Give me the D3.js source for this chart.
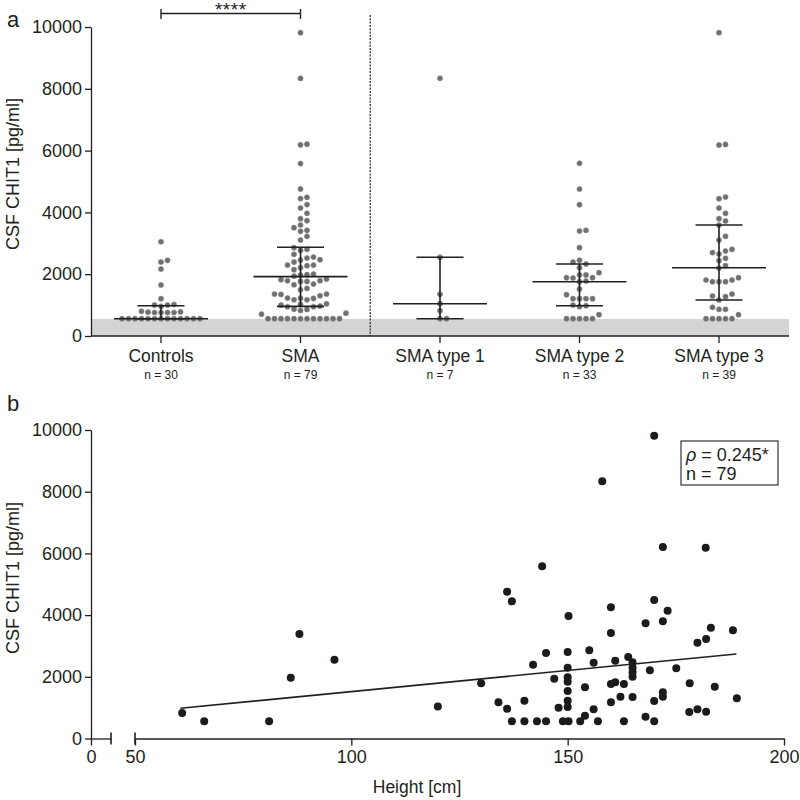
<!DOCTYPE html>
<html><head><meta charset="utf-8">
<script src="https://cdn.jsdelivr.net/npm/d3@7"></script>
<style>
body{margin:0;background:#fff}
text{font-family:"Liberation Sans",Arial,sans-serif;fill:#231f20}
</style>
</head><body>
<svg id="c" width="800" height="800"></svg>
<script>
// ---------- DATA ----------
const groups = ["Controls", "SMA", "SMA type 1", "SMA type 2", "SMA type 3"];
const groupN = ["n = 30", "n = 79", "n = 7", "n = 33", "n = 39"];

const controlsValues = [3050, 2450, 2395, 2168, 1650, 1207, 1020, 1000, 1000, 960, 800, 780, 770, 760, 760, 760, 760,
  560, 560, 560, 560, 560, 560, 560, 560, 560, 560, 560, 560, 560];
const type1Values = [8339, 2547, 1349, 1045, 819, 560, 560];
const type2Values = [5588, 4757, 4250, 3419, 3398, 2858, 2450, 2395, 2330, 2211, 2049, 1975, 1975, 1887, 1887,
  1877, 1780, 1757, 1521, 1337, 1207, 1207, 1207, 1207, 1000, 980, 950, 690, 560, 560, 560, 560, 560];
const type3Values = [9817, 6200, 6180, 4498, 4444, 4142, 3970, 3797, 3722, 3592, 3226, 3107, 2805, 2750, 2700,
  2654, 2513, 2437, 2276, 2200, 1887, 1812, 1812, 1757, 1757, 1757, 1359, 1294, 1272, 1165, 929, 864, 864, 690,
  560, 560, 560, 560, 560];

// SMA patients: height (cm) and CSF CHIT1 (pg/ml)
const heightCm = [60.9, 66, 81, 86, 88, 96.1, 120, 130, 134, 136, 136, 137.1, 137.1, 140, 140, 142, 142.9, 144.1, 145, 145,
  146.9, 147.9, 148.9, 150.2, 150, 150, 150, 150, 150, 150, 150, 150.2, 152.9, 154, 154, 155, 156, 156, 157, 158,
  160, 160, 160, 160, 161, 161, 162.2, 163, 163, 164, 165, 165, 165, 165, 165, 168, 168, 169, 170, 170,
  170, 170, 172, 172, 172, 172, 173.1, 175.1, 178.2, 178.1, 180, 180, 181.9, 182, 182, 183.1, 184, 188.2, 189.1];
const chit1 = [826, 560, 560, 1971, 3387, 2554, 1040, 1788, 1173, 4759, 967, 4447, 560, 1226, 560, 2393, 560, 5580, 2771, 560,
  1939, 999, 560, 3971, 2804, 2295, 1984, 1841, 1540, 1225, 1021, 560, 560, 740, 1659, 2858, 2458, 946, 560, 8337,
  4252, 3420, 1767, 1173, 2523, 1822, 1356, 1767, 560, 2642, 2469, 2296, 2146, 2004, 1345, 3733, 707, 2210, 9815, 4489,
  1215, 560, 6207, 3798, 1497, 1356, 4143, 2275, 1789, 859, 3106, 946, 6185, 3225, 869, 3592, 1680, 3507, 1302];

const medians = [560, 1920, 1045, 1757, 2211];
const q1Values = [560, 960, 560, 981, 1165];
const q3Values = [980, 2870, 2547, 2330, 3592];

const yTicks = [0, 2000, 4000, 6000, 8000, 10000];
const heightTicks = [50, 100, 150, 200];
const lodValue = 550;
const fitHeights = [60.5, 189];
const fitValues = [980, 2740];
const rhoText = "0.245*";
const nText = "n = 79";
const sigText = "****";

// ---------- DRAW ----------
const svg = d3.select("#c");
const ink = "#231f20";
const FS = 18;
const fmt = d3.format("d");

// ===== Panel a =====
const yA = d3.scaleLinear().domain([0, 10000]).range([336, 27]);
const xA = d3.scalePoint().domain(groups).range([161, 719]);
const aLeft = 91, aRight = 789;

svg.append("text").attr("x", 7).attr("y", 27).attr("font-size", 22).text("a");

// LOD band
svg.append("rect").attr("x", aLeft).attr("y", yA(lodValue))
  .attr("width", aRight - aLeft).attr("height", yA(0) - yA(lodValue)).attr("fill", "#d4d4d4");

// dashed separator
const sepX = (xA("SMA") + xA("SMA type 1")) / 2;
svg.append("line").attr("x1", sepX).attr("x2", sepX).attr("y1", 15).attr("y2", yA(0))
  .attr("stroke", ink).attr("stroke-width", 1.2).attr("stroke-dasharray", "2,1.3");

// y axis
const gyA = svg.append("g").attr("transform", `translate(${aLeft},0)`)
  .call(d3.axisLeft(yA).tickValues(yTicks).tickFormat(fmt).tickSize(6).tickPadding(3).tickSizeOuter(0));
gyA.selectAll("text").attr("font-size", FS).attr("fill", ink);
gyA.selectAll("path,line").attr("stroke", ink).attr("stroke-width", 1.3);

// x axis
const gxA = svg.append("g").attr("transform", `translate(0,${yA(0)})`);
gxA.append("line").attr("x1", aLeft).attr("x2", aRight).attr("stroke", ink).attr("stroke-width", 1.3);
gxA.selectAll(".tk").data(groups).join("line").attr("x1", d => xA(d)).attr("x2", d => xA(d))
  .attr("y1", 0).attr("y2", 7).attr("stroke", ink).attr("stroke-width", 1.3);
gxA.selectAll(".lab").data(groups).join("text").attr("x", d => xA(d)).attr("y", 26)
  .attr("text-anchor", "middle").attr("font-size", 17.5).text(d => d);
gxA.selectAll(".nlab").data(groupN).join("text").attr("x", (d, i) => xA(groups[i])).attr("y", 43)
  .attr("text-anchor", "middle").attr("font-size", 12).text(d => d);

// y title
svg.append("text").attr("transform", `translate(19,174) rotate(-90)`)
  .attr("text-anchor", "middle").attr("font-size", FS).text("CSF CHIT1 [pg/ml]");

// beeswarm on a column grid
function swarm(values, cx, yScale, d, minDy) {
  const pts = values.map(v => ({ v, y: yScale(v) })).sort((a, b) => b.y - a.y);
  const placed = [];
  const cands = [0];
  for (let i = 1; i < 40; i++) { cands.push(i, -i); }
  pts.forEach(p => {
    for (const c of cands) {
      const ok = placed.every(q => q.col !== c || Math.abs(q.y - p.y) >= minDy);
      if (ok) { p.col = c; break; }
    }
    placed.push(p);
  });
  return pts.map(p => ({ x: cx + p.col * d, y: p.y }));
}

const groupValues = [controlsValues, chit1, type1Values, type2Values, type3Values];
groupValues.forEach((vals, i) => {
  const pts = swarm(vals, xA(groups[i]), yA, 6.5, 6);
  svg.append("g").selectAll("circle").data(pts).join("circle")
    .attr("cx", d => d.x).attr("cy", d => d.y).attr("r", 2.6)
    .attr("fill", "#6f6f6f").attr("stroke", "#8a8a8a").attr("stroke-width", 0.6);
});

// median & IQR
groups.forEach((g, i) => {
  const cx = xA(g);
  const G = svg.append("g").attr("stroke", ink).attr("stroke-width", 1.6);
  G.append("line").attr("x1", cx - 47).attr("x2", cx + 47).attr("y1", yA(medians[i])).attr("y2", yA(medians[i]));
  G.append("line").attr("x1", cx).attr("x2", cx).attr("y1", yA(q1Values[i])).attr("y2", yA(q3Values[i]));
  G.append("line").attr("x1", cx - 23.5).attr("x2", cx + 23.5).attr("y1", yA(q1Values[i])).attr("y2", yA(q1Values[i]));
  G.append("line").attr("x1", cx - 23.5).attr("x2", cx + 23.5).attr("y1", yA(q3Values[i])).attr("y2", yA(q3Values[i]));
});

// significance bracket
const bx1 = xA("Controls"), bx2 = xA("SMA");
const B = svg.append("g").attr("stroke", ink).attr("stroke-width", 1.4);
B.append("line").attr("x1", bx1).attr("x2", bx2).attr("y1", 13.5).attr("y2", 13.5);
B.append("line").attr("x1", bx1).attr("x2", bx1).attr("y1", 9).attr("y2", 19);
B.append("line").attr("x1", bx2).attr("x2", bx2).attr("y1", 9).attr("y2", 19);
svg.append("text").attr("x", (bx1 + bx2) / 2).attr("y", 15.5).attr("text-anchor", "middle")
  .attr("font-size", 19).attr("letter-spacing", 0.5).text(sigText);

// ===== Panel b =====
const yB = d3.scaleLinear().domain([0, 10000]).range([738.5, 430]);
const xB = d3.scaleLinear().domain([50, 200]).range([135, 784]);
const xStub = d3.scaleLinear().domain([0, 10]).range([91, 111]);

svg.append("text").attr("x", 7).attr("y", 411).attr("font-size", 22).text("b");

const gyB = svg.append("g").attr("transform", `translate(91,0)`)
  .call(d3.axisLeft(yB).tickValues(yTicks).tickFormat(fmt).tickSize(6).tickPadding(3).tickSizeOuter(0));
gyB.selectAll("text").attr("font-size", FS).attr("fill", ink);
gyB.selectAll("path,line").attr("stroke", ink).attr("stroke-width", 1.3);

const gxB = svg.append("g").attr("transform", `translate(0,${yB(0)})`)
  .call(d3.axisBottom(xB).tickValues(heightTicks).tickFormat(fmt).tickSize(7).tickPadding(5).tickSizeOuter(0));
gxB.selectAll("text").attr("font-size", FS).attr("fill", ink);
gxB.selectAll("path,line").attr("stroke", ink).attr("stroke-width", 1.3);
const gxS = svg.append("g").attr("transform", `translate(0,${yB(0)})`)
  .call(d3.axisBottom(xStub).tickValues([0]).tickFormat(fmt).tickSize(7).tickPadding(5).tickSizeOuter(0));
gxS.selectAll("text").attr("font-size", FS).attr("fill", ink);
gxS.selectAll("path,line").attr("stroke", ink).attr("stroke-width", 1.3);
// break marks
[xStub(10), xB(50)].forEach(x => {
  svg.append("line").attr("x1", x).attr("x2", x).attr("y1", yB(0) - 6).attr("y2", yB(0) + 6)
    .attr("stroke", ink).attr("stroke-width", 1.6);
});

svg.append("text").attr("x", 417).attr("y", 793).attr("text-anchor", "middle")
  .attr("font-size", 17.5).text("Height [cm]");
svg.append("text").attr("transform", `translate(19,578) rotate(-90)`)
  .attr("text-anchor", "middle").attr("font-size", FS).text("CSF CHIT1 [pg/ml]");

// regression line
svg.append("line").attr("x1", xB(fitHeights[0])).attr("x2", xB(fitHeights[1]))
  .attr("y1", yB(fitValues[0])).attr("y2", yB(fitValues[1]))
  .attr("stroke", ink).attr("stroke-width", 1.6);

// points
svg.append("g").selectAll("circle").data(heightCm).join("circle")
  .attr("cx", d => xB(d)).attr("cy", (d, i) => yB(chit1[i])).attr("r", 4).attr("fill", "#1c1a1b");

// stats box
svg.append("rect").attr("x", 681).attr("y", 441).attr("width", 97).attr("height", 44)
  .attr("fill", "#fff").attr("stroke", ink).attr("stroke-width", 1.1);
const t1 = svg.append("text").attr("x", 686).attr("y", 461).attr("font-size", FS);
t1.append("tspan").attr("font-style", "italic").text("ρ");
t1.append("tspan").text(" = " + rhoText);
svg.append("text").attr("x", 686).attr("y", 480).attr("font-size", FS).text(nText);
</script>
</body></html>
